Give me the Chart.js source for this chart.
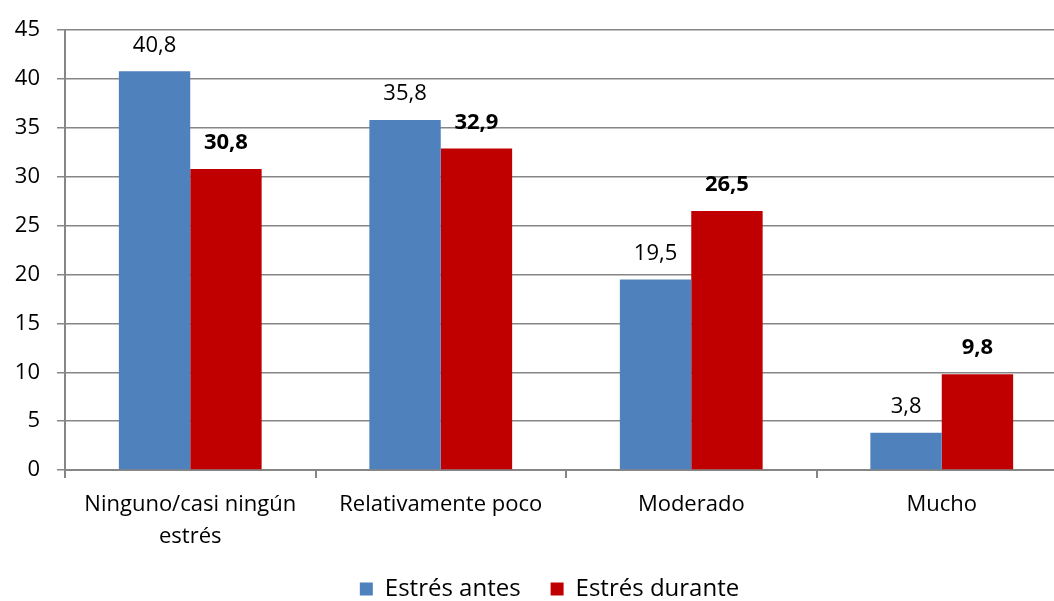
<!DOCTYPE html>
<html>
<head>
<meta charset="utf-8">
<script src="https://cdn.jsdelivr.net/npm/chart.js@4.4.1/dist/chart.umd.min.js"></script>
<style>
  html, body { margin: 0; padding: 0; background: #fff; overflow: hidden; }
</style>
</head>
<body>
<canvas id="grafico" width="1098" height="601"></canvas>
<script>
// Datos del gráfico
const categorias = [['Ninguno/casi ningún', 'estrés'], 'Relativamente poco', 'Moderado', 'Mucho'];
const estresAntes = [40.8, 35.8, 19.5, 3.8];
const estresDurante = [30.8, 32.9, 26.5, 9.8];
const ticksY = [0, 5, 10, 15, 20, 25, 30, 35, 40, 45];

const fuente = '"Open Sans", sans-serif';
const gris = '#868686';

// Etiquetas de valores encima de las barras
const etiquetasValores = {
    id: 'etiquetasValores',
    afterDatasetsDraw(chart) {
        const ctx = chart.ctx;
        ctx.save();
        ctx.fillStyle = '#000';
        ctx.textAlign = 'center';
        ctx.textBaseline = 'middle';
        chart.data.datasets.forEach((ds, i) => {
            const meta = chart.getDatasetMeta(i);
            ctx.font = (i === 1 ? 'bold ' : '') + '22px ' + fuente;
            meta.data.forEach((bar, j) => {
                const txt = String(ds.data[j]).replace('.', ',');
                ctx.fillText(txt, bar.x, bar.y - 26);
            });
        });
        ctx.restore();
    }
};

// Desplaza la leyenda un poco a la derecha (centrada como en el original)
const moverLeyenda = {
    id: 'moverLeyenda',
    afterLayout(chart) {
        chart.legend.left += 16;
        chart.legend.right += 16;
    }
};

new Chart(document.getElementById('grafico').getContext('2d'), {
    type: 'bar',
    data: {
        labels: categorias,
        datasets: [{
            label: 'Estrés antes',
            data: estresAntes,
            backgroundColor: '#4F81BD'
        }, {
            label: 'Estrés durante',
            data: estresDurante,
            backgroundColor: '#C00000'
        }]
    },
    options: {
        responsive: false,
        animation: false,
        layout: { padding: { top: 29, right: 31, left: 0, bottom: -10 } },
        datasets: {
            bar: { categoryPercentage: 0.57, barPercentage: 1 }
        },
        plugins: {
            legend: {
                position: 'bottom',
                labels: {
                    color: '#000',
                    font: { family: fuente, size: 24 },
                    boxWidth: 13,
                    boxHeight: 13,
                    padding: 10,
                    // espacio extra entre las entradas de la leyenda
                    generateLabels(chart) {
                        const items = Chart.defaults.plugins.legend.labels.generateLabels(chart);
                        items.forEach((it, i) => { if (i < items.length - 1) it.text += '\u2002\u2009\u2009'; });
                        return items;
                    }
                }
            },
            tooltip: { enabled: false }
        },
        scales: {
            x: {
                grid: {
                    offset: true,
                    drawOnChartArea: false,
                    drawTicks: true,
                    tickLength: 8,
                    color: gris,
                    lineWidth: 2
                },
                border: { color: gris, width: 2 },
                ticks: {
                    color: '#000',
                    font: { family: fuente, size: 22, lineHeight: 1.45 },
                    padding: 11,
                    maxRotation: 0
                },
                afterFit(scale) { scale.height = 97; }
            },
            y: {
                min: 0,
                max: 45,
                afterBuildTicks(scale) { scale.ticks = ticksY.map(v => ({ value: v })); },
                grid: {
                    color: gris,
                    lineWidth: 1.5,
                    tickLength: 8
                },
                border: { color: gris, width: 2 },
                ticks: {
                    color: '#000',
                    font: { family: fuente, size: 22 },
                    padding: 17
                },
                afterFit(scale) { scale.width = 65; }
            }
        }
    },
    plugins: [etiquetasValores, moverLeyenda]
});
</script>
</body>
</html>
